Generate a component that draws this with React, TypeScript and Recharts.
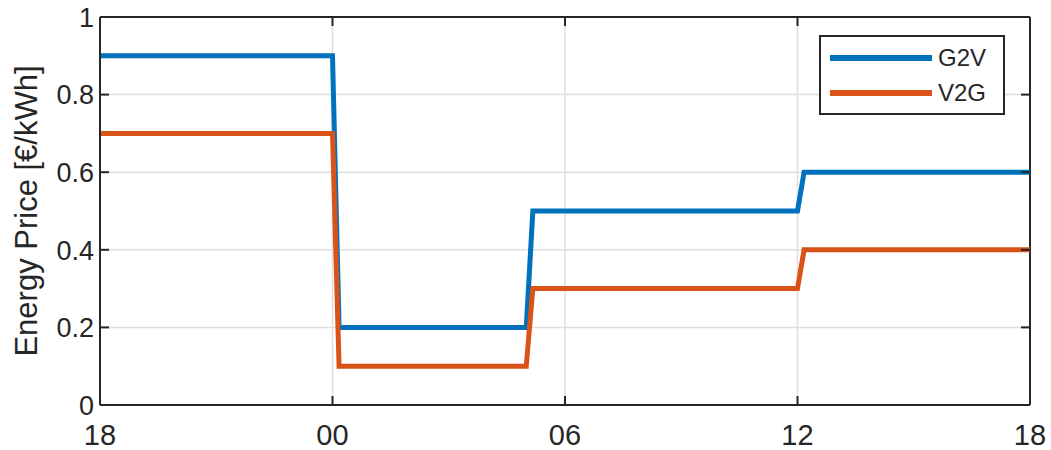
import {
  LineChart,
  Line,
  XAxis,
  YAxis,
  CartesianGrid,
  ReferenceLine,
} from "recharts";

// hours since 18:00
const hours = [0, 6, 6.17, 11, 11.17, 18, 18.17, 24];
const g2vPrice = [0.9, 0.9, 0.2, 0.2, 0.5, 0.5, 0.6, 0.6];
const v2gPrice = [0.7, 0.7, 0.1, 0.1, 0.3, 0.3, 0.4, 0.4];

const seriesNames = ["G2V", "V2G"];
const seriesColors = ["#0072BD", "#D95319"];

const xTicks = [0, 6, 12, 18, 24];
const xTickLabels = ["18", "00", "06", "12", "18"];
const yTicks = [0, 0.2, 0.4, 0.6, 0.8, 1];

const data = hours.map((h, i) => ({
  h,
  G2V: g2vPrice[i],
  V2G: v2gPrice[i],
}));

const W = 1051;
const H = 450;
const TOP = 17;
const RIGHT = 21;
const LEFT_W = 100;
const BOTTOM_H = 45;
const PLOT_BOTTOM = H - BOTTOM_H;
const PLOT_RIGHT = W - RIGHT;

const FONT = "'Liberation Sans', Arial, sans-serif";
const AXIS = "#262626";

function XTick(props: any) {
  const { x, y, payload } = props;
  const idx = xTicks.indexOf(payload.value);
  return (
    <g>
      <line x1={x} y1={PLOT_BOTTOM} x2={x} y2={PLOT_BOTTOM - 9} stroke={AXIS} strokeWidth={2} />
      <line x1={x} y1={TOP} x2={x} y2={TOP + 9} stroke={AXIS} strokeWidth={2} />
      <text
        x={x}
        y={y + 40}
        textAnchor="middle"
        fontSize={29}
        fill="#262626"
        fontFamily={FONT}
      >
        {xTickLabels[idx]}
      </text>
    </g>
  );
}

function YTick(props: any) {
  const { x, y, payload } = props;
  return (
    <g>
      <line x1={LEFT_W} y1={y} x2={LEFT_W + 9} y2={y} stroke={AXIS} strokeWidth={2} />
      <line x1={PLOT_RIGHT} y1={y} x2={PLOT_RIGHT - 9} y2={y} stroke={AXIS} strokeWidth={2} />
      <text
        x={x - 6}
        y={y}
        dy="0.36em"
        textAnchor="end"
        fontSize={27}
        fill="#262626"
        fontFamily={FONT}
      >
        {String(payload.value)}
      </text>
    </g>
  );
}

function LegendBox() {
  return (
    <div
      style={{
        position: "absolute",
        left: 819,
        top: 35,
        width: 182,
        height: 76,
        border: "2px solid #262626",
        background: "#fff",
        fontFamily: FONT,
        fontSize: 24,
        color: "#262626",
      }}
    >
      {seriesNames.map((name, i) => (
        <div
          key={name}
          style={{
            position: "absolute",
            left: 9,
            top: 7 + i * 35,
            display: "flex",
            alignItems: "center",
            height: 28,
          }}
        >
          <svg width={102} height={10} style={{ marginRight: 6 }}>
            <line x1={0} y1={5} x2={102} y2={5} stroke={seriesColors[i]} strokeWidth={6} />
          </svg>
          <span>{name}</span>
        </div>
      ))}
    </div>
  );
}

export default function App() {
  return (
    <div style={{ position: "absolute", left: 0, top: 0, width: W, height: H, background: "#fff" }}>
      <LineChart
        width={W}
        height={H}
        data={data}
        margin={{ top: TOP, right: RIGHT, bottom: 0, left: 0 }}
        style={{ fontFamily: FONT }}
      >
        <CartesianGrid stroke="#dedede" strokeWidth={1.5} />
        <XAxis
          dataKey="h"
          type="number"
          domain={[0, 24]}
          ticks={xTicks}
          height={BOTTOM_H}
          tickSize={0}
          tickMargin={0}
          tickLine={false}
          axisLine={{ stroke: AXIS, strokeWidth: 2 }}
          tick={<XTick />}
          interval={0}
        />
        <YAxis
          type="number"
          domain={[0, 1]}
          ticks={yTicks}
          width={LEFT_W}
          tickSize={0}
          tickMargin={0}
          tickLine={false}
          axisLine={{ stroke: AXIS, strokeWidth: 2 }}
          tick={<YTick />}
          interval={0}
          label={{
            value: "Energy Price [€/kWh]",
            angle: -90,
            position: "insideLeft",
            offset: 26,
            style: {
              textAnchor: "middle",
              fontSize: 31,
              fill: "#262626",
              fontFamily: FONT,
            },
          }}
        />
        <ReferenceLine y={1} stroke={AXIS} strokeWidth={2} />
        <ReferenceLine x={24} stroke={AXIS} strokeWidth={2} />
        {seriesNames.map((name, i) => (
          <Line
            key={name}
            dataKey={name}
            stroke={seriesColors[i]}
            strokeWidth={5}
            dot={false}
            type="linear"
            isAnimationActive={false}
          />
        ))}
      </LineChart>
      <LegendBox />
    </div>
  );
}
